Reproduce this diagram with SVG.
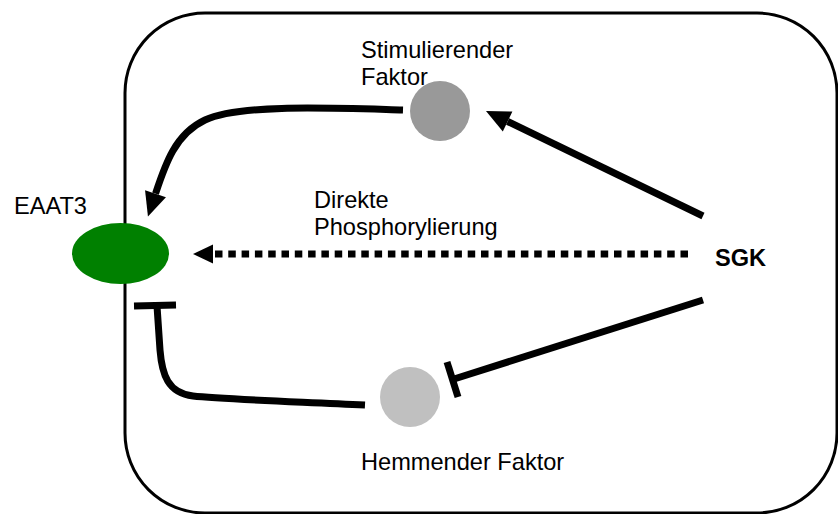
<svg xmlns="http://www.w3.org/2000/svg" width="838" height="514" viewBox="0 0 838 514">
  <style>
    .lbl { font-family: "Liberation Sans", Arial, sans-serif; font-size: 23.6px; fill: #000; }
    .bold { font-weight: bold; }
    .conn { fill: none; stroke: #000; stroke-width: 7; }
    .dot { stroke-dasharray: 7.5 5.8; }
  </style>
  <defs>
    <marker id="ah" markerUnits="userSpaceOnUse" markerWidth="24" markerHeight="22" refX="0" refY="11" orient="auto" overflow="visible">
      <path d="M0,0 L24,11 L0,22 z" fill="#000"/>
    </marker>
    <marker id="ahs" markerUnits="userSpaceOnUse" markerWidth="20" markerHeight="19" refX="0" refY="9.5" orient="auto" overflow="visible">
      <path d="M0,0 L20,9.5 L0,19 z" fill="#000"/>
    </marker>
  </defs>

  <g id="cell">
    <rect x="125" y="13" width="712" height="500" rx="80" ry="80" fill="none" stroke="#000" stroke-width="3"/>
  </g>

  <g id="connectors">
    <!-- SGK -> Stimulierender Faktor -->
    <path class="conn" d="M703,216 L507.6,121.5" marker-end="url(#ah)"/>
    <!-- Stimulierender Faktor -> EAAT3 -->
    <path class="conn" d="M403,110 C330,108 240,104 205,120 C175,134 165,165 155.5,193.7" marker-end="url(#ah)"/>
    <!-- SGK direct phosphorylation (dotted) -->
    <path class="conn dot" d="M688,254 L213,254" marker-end="url(#ahs)"/>
    <!-- SGK -| Hemmender Faktor -->
    <path class="conn" d="M703,300 L452.5,379.5"/>
    <path class="conn" d="M447,362 L458,397"/>
    <!-- Hemmender Faktor -| EAAT3 -->
    <path class="conn" d="M365,405 C280,401 220,399 193,396 C168,393 162,375 160,350 L157,306"/>
    <path class="conn" d="M134,306 L176,305"/>
  </g>

  <g id="eaat3">
    <ellipse cx="120.5" cy="253.5" rx="48.5" ry="30.5" fill="#008000"/>
    <text class="lbl" x="14" y="214">EAAT3</text>
  </g>

  <g id="stimulierender-faktor">
    <circle cx="440" cy="111" r="30" fill="#999999"/>
    <text class="lbl" x="361" y="58">Stimulierender</text>
    <text class="lbl" x="361" y="85">Faktor</text>
  </g>

  <g id="hemmender-faktor">
    <circle cx="410" cy="397" r="30" fill="#c0c0c0"/>
    <text class="lbl" x="361" y="470">Hemmender Faktor</text>
  </g>

  <g id="sgk">
    <text class="lbl bold" x="715" y="266">SGK</text>
  </g>

  <g id="phospho-label">
    <text class="lbl" x="314" y="208">Direkte</text>
    <text class="lbl" x="314" y="235">Phosphorylierung</text>
  </g>
</svg>
